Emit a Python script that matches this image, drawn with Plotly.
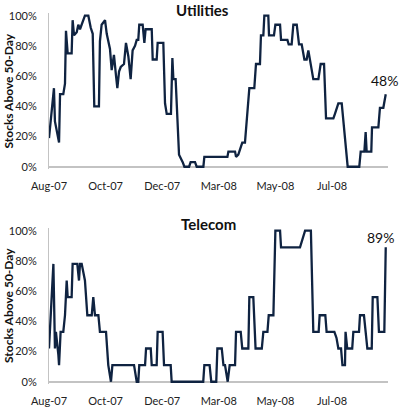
import plotly.graph_objects as go
from plotly.subplots import make_subplots

# trading-day index (labels every 40 days on a category-style axis)
tick_days = [0, 40, 80, 120, 160, 200]
tick_text = ["Aug-07", "Oct-07", "Dec-07", "Mar-08", "May-08", "Jul-08"]
pct_ticks = [0, 20, 40, 60, 80, 100]
pct_text = ["0%", "20%", "40%", "60%", "80%", "100%"]

# Utilities: % of stocks above 50-day moving average
util_day = [0, 3.5, 4.2, 5.9, 7.1, 7.8, 10.1, 11.3, 12.0, 13.2, 16.0, 16.7, 17.7,
            19.6, 20.7, 21.9, 23.6, 25.4, 27.8, 29.5, 30.9, 32.0, 35.3, 36.0, 37.2,
            39.6, 40.8, 43.1, 44.3, 45.9, 47.4, 48.3, 49.5, 50.7, 53.0, 54.4, 56.1,
            57.7, 59.1, 60.8, 62.0, 63.1, 63.8, 66.2, 67.4, 68.3, 72.6, 73.3, 76.1,
            76.8, 80.8, 82.0, 83.2, 86.2, 87.2, 87.9, 89.5, 90.2, 91.9, 94.5, 95.7,
            99.0, 100.1, 103.2, 104.4, 109.1, 109.8, 126.1, 126.8, 131.5, 132.2,
            133.8, 136.6, 138.5, 141.6, 145.1, 146.3, 149.1, 149.8, 151.5, 152.2,
            155.0, 155.5, 159.0, 160.0, 163.3, 164.0, 168.5, 169.4, 171.5, 172.7,
            175.1, 176.7, 178.6, 180.5, 182.1, 183.3, 186.8, 190.4, 192.0, 194.4,
            195.8, 201.0, 202.1, 204.5, 206.9, 208.0, 210.4, 211.1, 219.3, 220.3,
            222.9, 223.8, 224.5, 227.8, 228.3, 232.8, 233.9, 236.3, 238.0]
util_pct = [19, 52, 30, 22, 16, 48, 48, 55, 90, 75, 75, 97, 87,
            89, 94, 91, 95, 100, 100, 92, 88, 40, 40, 83, 94,
            97, 88, 78, 64, 74, 60, 52, 63, 66, 68, 82, 73,
            58, 77, 80, 84, 84, 94, 94, 82, 91, 91, 71, 71,
            82, 82, 42, 35, 35, 72, 58, 58, 42, 8, 3, 0,
            0, 3, 3, 0, 0, 6.5, 6.5, 10, 10, 6.5,
            8, 16, 16, 52, 52, 68, 68, 87, 87, 100,
            100, 87, 87, 94, 94, 84, 84, 81, 81, 94,
            94, 81, 81, 71, 71, 77, 58, 58, 68, 68,
            32, 32, 35, 42, 42, 32, 10, 0, 0, 10,
            10, 23, 10, 10, 26, 26, 39, 39, 48]

# Telecom: % of stocks above 50-day moving average
tel_day = [0, 3.1, 4.2, 4.9, 6.6, 7.1, 8.2, 10.1, 11.3, 12.5, 13.2, 16.0, 16.7,
           20.0, 21.2, 21.9, 23.1, 25.4, 27.1, 30.2, 31.3, 32.5, 34.9, 36.0, 40.3,
           41.9, 43.8, 44.8, 60.1, 62.0, 63.1, 63.8, 67.9, 68.6, 71.9, 72.6, 76.1,
           76.8, 80.3, 81.3, 86.0, 86.7, 109.0, 109.8, 113.5, 114.7, 118.2, 119.0,
           122.1, 123.3, 124.4, 126.3, 127.7, 131.5, 132.2, 135.5, 136.6, 140.9,
           141.6, 144.4, 146.0, 150.4, 151.5, 154.4, 155.3, 158.6, 160.0, 163.3,
           164.0, 177.4, 181.0, 185.1, 186.8, 190.6, 191.3, 195.3, 196.2, 201.7,
           203.2, 204.5, 206.4, 207.4, 209.2, 209.6, 210.8, 214.3, 215.1, 219.1,
           219.8, 222.6, 223.8, 225.0, 228.1, 228.8, 232.1, 233.2, 237.0, 238.0]
tel_pct = [22, 78, 22, 33, 18, 11, 33, 33, 44, 67, 56, 56, 78,
           78, 67, 78, 78, 67, 44, 44, 56, 44, 44, 33, 33,
           11, 0, 11, 11, 0, 0, 11, 11, 22, 22, 11, 11,
           33, 33, 11, 11, 0, 0, 11, 11, 0, 0, 22,
           22, 11, 11, 0, 11, 11, 33, 33, 22, 22,
           56, 56, 22, 22, 33, 33, 44, 44, 100, 100,
           89, 89, 100, 100, 33, 33, 44, 44, 33, 33,
           29, 22, 22, 11, 11, 33, 22, 22, 33, 33,
           44, 44, 33, 22, 22, 56, 56, 33, 33, 89]

navy = "#0f2341"
axis_gray = "#c3c3c3"
font = "Lato"
W, H = 400, 410

fig = make_subplots(rows=2, cols=1)

fig.add_trace(go.Scatter(x=util_day, y=util_pct, mode="lines",
                         line=dict(color=navy, width=2.3), hoverinfo="skip"),
              row=1, col=1)
fig.add_trace(go.Scatter(x=tel_day, y=tel_pct, mode="lines",
                         line=dict(color=navy, width=2.3), hoverinfo="skip"),
              row=2, col=1)

fig.update_xaxes(range=[0, 239.6], domain=[49 / W, 388 / W],
                 tickvals=tick_days, ticktext=tick_text, automargin=False,
                 showgrid=False, zeroline=False, showline=False, ticks="",
                 tickfont=dict(family=font, size=11, color="#222"),
                 ticklabelstandoff=9)
fig.update_yaxes(range=[-1.5, 101.5], tickvals=pct_ticks, ticktext=pct_text,
                 automargin=False, showgrid=False, zeroline=True,
                 zerolinecolor=axis_gray, zerolinewidth=2,
                 showline=True, linecolor=axis_gray, linewidth=1, ticks="",
                 tickfont=dict(family=font, size=11, color="#222"),
                 ticklabelstandoff=9)
fig.update_yaxes(domain=[1 - 169 / H, 1 - 13.4 / H], row=1, col=1)
fig.update_yaxes(domain=[1 - 384 / H, 1 - 228.4 / H], row=2, col=1)

# axis titles
for yc in [91.5, 306]:
    fig.add_annotation(text="<b>Stocks Above 50-Day</b>", x=8 / W, y=1 - yc / H,
                       xref="paper", yref="paper", textangle=-90, showarrow=False,
                       xanchor="center", yanchor="middle",
                       font=dict(family=font, size=12, color="#111"))

fig.add_annotation(text="<b>Utilities</b>", x=202 / W, y=1 - 9.5 / H, xref="paper", yref="paper",
                   showarrow=False, xanchor="center", yanchor="middle",
                   font=dict(family=font, size=15, color="#111"))
fig.add_annotation(text="<b>Telecom</b>", x=208 / W, y=1 - 224 / H, xref="paper", yref="paper",
                   showarrow=False, xanchor="center", yanchor="middle",
                   font=dict(family=font, size=15, color="#111"))
fig.add_annotation(text=f"{util_pct[-1]:.0f}%", x=util_day[-1], y=util_pct[-1], xref="x", yref="y",
                   showarrow=False, yshift=14, xshift=-1,
                   font=dict(family=font, size=14, color="#111"))
fig.add_annotation(text=f"{tel_pct[-1]:.0f}%", x=tel_day[-1], y=tel_pct[-1], xref="x2", yref="y2",
                   showarrow=False, yshift=10, xshift=-5,
                   font=dict(family=font, size=14, color="#111"))

fig.update_layout(width=W, height=H, showlegend=False,
                  margin=dict(l=0, r=0, t=0, b=0),
                  paper_bgcolor="white", plot_bgcolor="white",
                  font=dict(family=font))

# drop the browser's default 8px page margin so the chart sits at the window corner
fig.write_html("out.html", config={"displayModeBar": False},
               post_script="document.body.style.margin = '0';")
